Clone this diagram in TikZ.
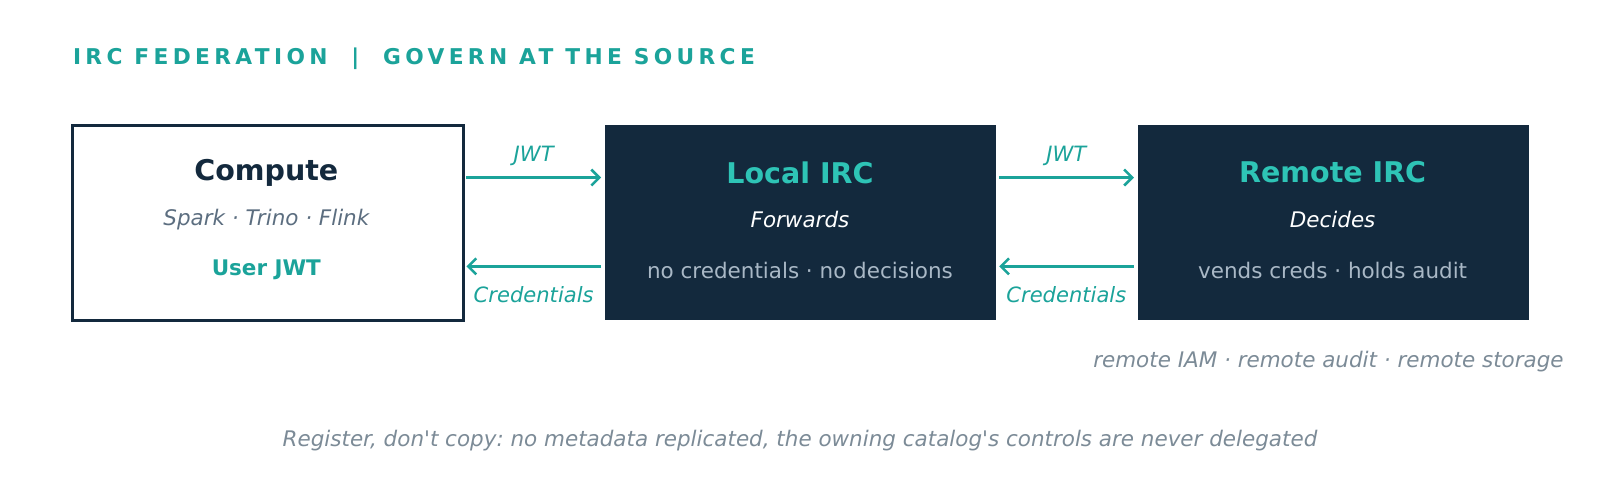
\documentclass[tikz,border=0pt]{standalone}
\usepackage{fontspec}
\setmainfont{DejaVu Sans}[Ligatures=NoCommon]
\usetikzlibrary{arrows.meta}
\definecolor{navy}{HTML}{13293D}
\definecolor{teal}{HTML}{1BA39A}
\definecolor{bteal}{HTML}{2EC4B6}
\definecolor{slate}{HTML}{5C6E80}
\definecolor{lgray}{HTML}{A9B8C6}
\definecolor{ngray}{HTML}{7C8B97}
\begin{document}
\frenchspacing
\begin{tikzpicture}[x=0.75pt,y=-0.75pt,
  box/.style={minimum width=391*0.75pt,minimum height=195*0.75pt,inner sep=0pt,anchor=north west},
  arr/.style={draw=teal,line width=1.9pt,-{Straight Barb[length=6pt,width=12pt]}},
  lab/.style={text=teal,font=\fontsize{15.8}{18}\selectfont\itshape}]
\fill[white] (0,0) rectangle (1600,498);
\begin{scope}[scale=1.0204]
\node[anchor=west,text=teal,font=\fontsize{16.3}{18}\selectfont\bfseries\addfontfeatures{LetterSpace=20}] (title) at (67,58) {IRC FEDERATION \ | \ GOVERN AT THE SOURCE};
\node[box,draw=navy,line width=2pt,fill=white] (c) at (70,122) {};
\node[box,fill=navy] (l) at (593,122) {};
\node[box,fill=navy] (r) at (1115,122) {};
\node[text=navy,font=\fontsize{21.4}{24}\selectfont\bfseries] (ct) at (261,169) {Compute};
\node[text=slate,font=\fontsize{16.1}{18}\selectfont\itshape] (cs) at (261,215) {Spark · Trino · Flink};
\node[text=teal,font=\fontsize{16.1}{18}\selectfont\bfseries] (cj) at (261,264) {User JWT};
\node[text=bteal,font=\fontsize{21.4}{24}\selectfont\bfseries] (lt) at (784,169) {Local IRC};
\node[text=white,font=\fontsize{16.1}{18}\selectfont\itshape] (ls) at (784,215) {Forwards};
\node[text=lgray,font=\fontsize{16.1}{18}\selectfont] (lj) at (784,265) {no credentials · no decisions};
\node[text=bteal,font=\fontsize{21.4}{24}\selectfont\bfseries] (rt) at (1306,169) {Remote IRC};
\node[text=white,font=\fontsize{16.1}{18}\selectfont\itshape] (rs) at (1306,215) {Decides};
\node[text=lgray,font=\fontsize{16.1}{18}\selectfont] (rj) at (1306,265) {vends creds · holds audit};
\coordinate (a1) at (457,174); \coordinate (a2) at (589,174);
\coordinate (b1) at (589,261); \coordinate (b2) at (457,261);
\coordinate (a3) at (979,174); \coordinate (a4) at (1111,174);
\coordinate (b3) at (1111,261); \coordinate (b4) at (979,261);
\draw[arr] (a1) -- (a2); \draw[arr] (b1) -- (b2);
\draw[arr] (a3) -- (a4); \draw[arr] (b3) -- (b4);
\node[lab] (j1) at (523,153) {JWT};
\node[lab] (j2) at (1045,153) {JWT};
\node[lab] (c1) at (523,289) {Credentials};
\node[lab] (c2) at (1045,289) {Credentials};
\node[anchor=east,text=ngray,font=\fontsize{16.1}{18}\selectfont\itshape] (note) at (1537,354) {remote IAM · remote audit · remote storage};
\node[text=ngray,font=\fontsize{16.1}{18}\selectfont\itshape] (foot) at (784,432) {Register, don\textquotesingle t copy: no metadata replicated, the owning catalog\textquotesingle s controls are never delegated};
\end{scope}
\pgfresetboundingbox
\useasboundingbox (0,0) rectangle (1600,498);
\end{tikzpicture}
\end{document}
